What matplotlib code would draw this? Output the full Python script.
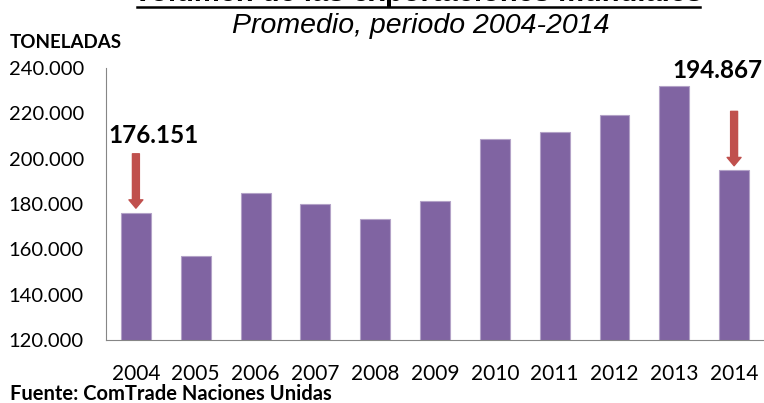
import numpy as np
import matplotlib
matplotlib.use("Agg")
import matplotlib.pyplot as plt
from matplotlib.ticker import FuncFormatter

years = ["2004", "2005", "2006", "2007", "2008", "2009", "2010", "2011", "2012", "2013", "2014"]
toneladas = [176151, 157000, 184700, 179900, 173500, 181300, 208700, 211800, 219300, 232000, 194867]
destacados = [0, 10]   # barras con flecha y etiqueta
etiquetas = ["176.151", "194.867"]

bar_color = "#8064A2"
arrow_color = "#C0504D"

fig = plt.figure(figsize=(7.64, 4.03), dpi=100)
ax = fig.add_axes([106 / 764, 63 / 403, 1 - 106 / 764, 272 / 403])

x = np.arange(len(years))
ax.bar(x, toneladas, width=0.5, color=bar_color, edgecolor="#B3A2C7", linewidth=0.8)

ax.set_xlim(-0.5, len(years) - 0.5)
ax.set_ylim(120000, 240000)
ax.set_yticks(np.arange(120000, 240001, 20000))
ax.yaxis.set_major_formatter(FuncFormatter(lambda v, p: f"{int(v):,}".replace(",", ".")))
ax.set_xticks(x)
ax.set_xticklabels(years)

for s in ["top", "right"]:
    ax.spines[s].set_visible(False)
ax.spines["left"].set_color("#868686")
ax.spines["bottom"].set_color("#868686")
ax.tick_params(axis="both", length=0)
ax.tick_params(axis="y", labelsize=14.5, pad=16)
ax.tick_params(axis="x", labelsize=15, pad=17)
for lab in ax.get_xticklabels() + ax.get_yticklabels():
    lab.set_fontfamily("Lato")

# flechas y valores
offs_text = [(0.3, 34000), (-0.27, 44000)]
for i, lab, (dx, dy) in zip(destacados, etiquetas, offs_text):
    v = toneladas[i]
    ax.annotate("", xy=(i, v + 2000), xytext=(i, v + 26000),
                arrowprops=dict(arrowstyle="simple,head_width=1.0,head_length=0.6,tail_width=0.5",
                                color=arrow_color, mutation_scale=10, shrinkA=0, shrinkB=0))
    ax.text(i + dx, v + dy, lab, ha="center", va="center", fontsize=17.5,
            fontweight="bold", family="Lato", clip_on=False)

# titulos (el titulo principal queda cortado arriba, como en el original)
fig.text(418 / 764, 1 - (-7) / 403, "Volumen de las exportaciones mundiales", ha="center",
         va="center", fontsize=21, fontweight="bold", family="Liberation Sans")
fig.add_artist(plt.Line2D([137 / 764, 700 / 764], [1 - 7 / 403, 1 - 7 / 403],
                          color="black", linewidth=1.8))
fig.text(421 / 764, 1 - 26 / 403, "Promedio, periodo 2004-2014", ha="center", va="center",
         fontsize=20.5, style="italic", family="Liberation Sans")
fig.text(10 / 764, 1 - 42 / 403, "TONELADAS", ha="left", va="center",
         fontsize=13.5, fontweight="bold", family="Lato")
fig.text(10 / 764, 1 - 394 / 403, "Fuente: ComTrade Naciones Unidas", ha="left",
         va="center", fontsize=14.5, fontweight="bold", family="Lato")

fig.savefig("out.png", dpi=100)
